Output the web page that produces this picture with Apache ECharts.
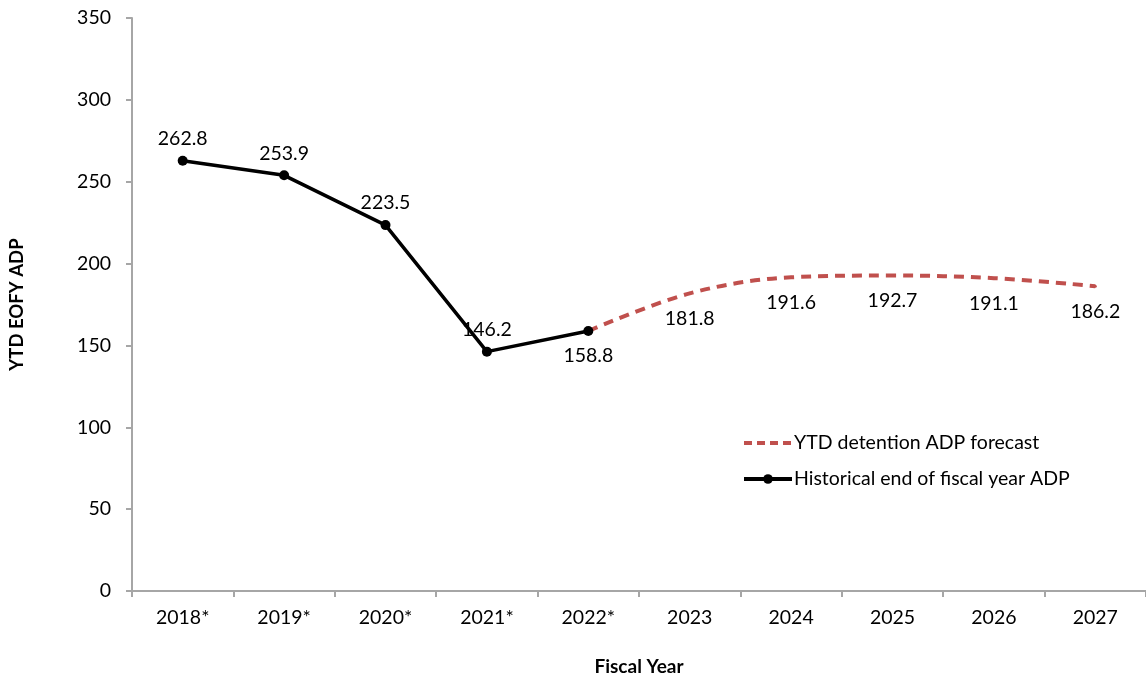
<!DOCTYPE html>
<html>
<head>
<meta charset="utf-8">
<script src="https://cdn.jsdelivr.net/npm/echarts@6/dist/echarts.min.js"></script>
<style>
html,body{margin:0;padding:0;background:#fff;}
#chart{width:1146px;height:681px;}
</style>
</head>
<body>
<div id="chart"></div>
<script>
const categories = ['2018*','2019*','2020*','2021*','2022*','2023','2024','2025','2026','2027'];
const historical = [262.8, 253.9, 223.5, 146.2, 158.8, null, null, null, null, null];
const forecast = [null, null, null, null, 158.8, 181.8, 191.6, 192.7, 191.1, 186.2];
const yTicks = [0, 50, 100, 150, 200, 250, 300, 350];

const FONT = 'Lato';
const FS = 19.5;
const chart = echarts.init(document.getElementById('chart'));
const axisGray = '#A6A6A6';
const red = '#C0504D';

chart.setOption({
  animation: false,
  textStyle: { fontFamily: FONT },
  grid: { left: 132, top: 18, width: 1023, bottom: 89 },
  legend: {
    data: [
      { name: 'YTD detention ADP forecast', itemStyle: { opacity: 0 }, lineStyle: { width: 4, color: red, type: [8, 5] } },
      { name: 'Historical end of fiscal year ADP', lineStyle: { width: 4, color: '#000' }, itemStyle: { color: '#000' } }
    ],
    orient: 'vertical',
    left: 737,
    top: 428,
    itemWidth: 48,
    itemHeight: 12,
    itemGap: 16,
    textStyle: { fontFamily: FONT, fontSize: FS, color: '#000', padding: [0,0,0,-3] }
  },
  xAxis: {
    type: 'category',
    data: categories,
    boundaryGap: true,
    name: 'Fiscal Year',
    nameLocation: 'middle',
    nameGap: 66,
    nameTextStyle: { fontFamily: FONT, fontWeight: 'bold', fontSize: 19, color: '#000' },
    axisLine: { lineStyle: { color: axisGray, width: 2 } },
    axisTick: { show: true, length: 6, lineStyle: { color: axisGray, width: 2 } },
    axisLabel: { fontFamily: FONT, fontSize: FS, color: '#000', margin: 17 }
  },
  yAxis: {
    type: 'value',
    min: yTicks[0],
    max: yTicks[yTicks.length - 1],
    interval: 50,
    name: 'YTD EOFY ADP',
    nameLocation: 'middle',
    nameGap: 105,
    nameRotate: 90,
    nameTextStyle: { fontFamily: FONT, fontWeight: 'bold', fontSize: 18.5, color: '#000' },
    axisLine: { show: true, lineStyle: { color: axisGray, width: 2 } },
    axisTick: { show: true, length: 6, lineStyle: { color: axisGray, width: 2 } },
    splitLine: { show: false },
    axisLabel: { fontFamily: FONT, fontSize: FS, color: '#000', margin: 21 }
  },
  series: [
    {
      name: 'YTD detention ADP forecast',
      type: 'line',
      data: forecast,
      smooth: 0.35,
      symbol: 'circle',
      symbolSize: 3,
      showSymbol: true,
      z: 2,
      lineStyle: { color: red, width: 4, type: [10, 7] },
      itemStyle: { color: red },
      label: {
        show: true,
        position: 'bottom',
        distance: 14,
        fontFamily: FONT,
        fontSize: FS,
        color: '#000',
        formatter: p => (p.dataIndex === 4 ? '' : p.value.toFixed(1))
      },
      emphasis: { disabled: true }
    },
    {
      name: 'Historical end of fiscal year ADP',
      type: 'line',
      data: historical.map((v, i) => i === 4
        ? { value: v, label: { position: 'bottom', distance: 10 } }
        : v),
      symbol: 'circle',
      symbolSize: 10,
      z: 3,
      lineStyle: { color: '#000', width: 3.5 },
      itemStyle: { color: '#000' },
      label: {
        show: true,
        position: 'top',
        distance: 7,
        fontFamily: FONT,
        fontSize: FS,
        color: '#000',
        formatter: p => p.value.toFixed(1)
      },
      emphasis: { disabled: true }
    }
  ]
});
</script>
</body>
</html>
